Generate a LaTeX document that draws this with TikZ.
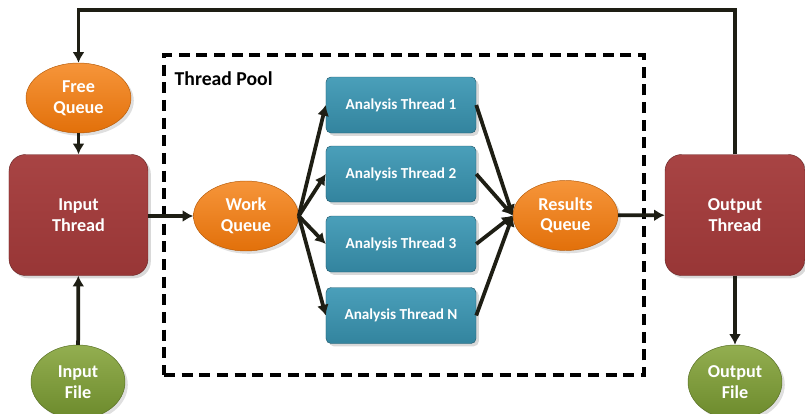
\documentclass[tikz,border=0pt]{standalone}
\usepackage{fontspec}
\setmainfont{Carlito}
\usetikzlibrary{shapes,arrows,arrows.meta,shadows}
\usetikzlibrary{positioning}
\definecolor{wire}{HTML}{1E1E14}
\definecolor{qtop}{HTML}{F6953A}
\definecolor{qbot}{HTML}{E2700A}
\definecolor{ttop}{HTML}{A84444}
\definecolor{tbot}{HTML}{983636}
\definecolor{wtop}{HTML}{4A9FBA}
\definecolor{wbot}{HTML}{33849E}
\definecolor{ftop}{HTML}{93AE50}
\definecolor{fbot}{HTML}{6C8A2C}
\tikzset{auto,>={Latex[length=0.32cm,width=0.36cm]}, minimum size=0pt, font=\bfseries\fontsize{15.5}{17.5}\selectfont}
\tikzstyle{queue} = [draw=qbot!80!black, ellipse, top color=qtop, bottom color=qbot, text=white, minimum width=3.15cm, minimum height=2.1cm, align=center, drop shadow={opacity=0.25}]
\tikzstyle{thread} = [draw=tbot!70!black, rectangle, rounded corners=0.5cm, top color=ttop, bottom color=tbot, text=white, minimum width=4.17cm, minimum height=3.63cm, align=center, drop shadow={opacity=0.3}]
\tikzstyle{worker} = [draw=wbot!70!black, rectangle, rounded corners=0.15cm, top color=wtop, bottom color=wbot, text=white, minimum width=4.5cm, minimum height=1.68cm, font=\bfseries\fontsize{13}{15}\selectfont, drop shadow={opacity=0.3}]
\tikzstyle{file} = [draw=fbot!80!black, ellipse, top color=ftop, bottom color=fbot, text=white, minimum width=2.82cm, minimum height=2.22cm, align=center, drop shadow={opacity=0.25}]
\tikzstyle{poolbox} = [draw=black, line width=3pt, dash pattern=on 0.33cm off 0.2cm, rectangle, minimum width=14.4cm, minimum height=9.6cm]
\tikzstyle{link} = [draw=wire, line width=3.2pt]

\begin{document}
\begin{tikzpicture}[x=0.03cm, y=-0.03cm]
    \useasboundingbox (0,0) rectangle (805,413);
    \node [poolbox] (pool) at (404,215) {};
    \node [anchor=north west, font=\bfseries\fontsize{16.8}{18}\selectfont] (pooltitle) at ([xshift=0.25cm,yshift=-0.42cm]pool.north west) {Thread Pool};

    \node [thread] (in) at (78.5,215) {Input\\Thread};
    \node [queue] (free) at (78.5,98) {Free\\Queue};
    \node [file] (infile) at (78,382) {Input\\File};
    \node [queue] (work) at (246,216) {Work\\Queue};
    \node [worker] (a1) at (401,105) {Analysis Thread 1};
    \node [worker] (a2) at (401,174) {Analysis Thread 2};
    \node [worker] (a3) at (401,244) {Analysis Thread 3};
    \node [worker] (an) at (401,315.5) {Analysis Thread N};
    \node [queue] (results) at (565.5,215.5) {Results\\Queue};
    \node [thread, minimum width=4.2cm] (out) at (735,215) {Output\\Thread};
    \node [file] (outfile) at (735,382) {Output\\File};
    \coordinate (top) at (735,10);

    \draw [link,->] (free) -- (in);
    \draw [link,->] (infile) -- (in);
    \draw [link,->] (in.east |- work) -- (work);
    \draw [link,->] (work.east) -- (a1.west);
    \draw [link,->] (work.east) -- (a2.west);
    \draw [link,->] (work.east) -- (a3.west);
    \draw [link,->] (work.east) -- (an.west);
    \draw [link,->] (a1.east) -- (results.west);
    \draw [link,->] (a2.east) -- (results.west);
    \draw [link,->] (a3.east) -- (results.west);
    \draw [link,->] (an.east) -- (results.west);
    \draw [link,->] (results) -- (out);
    \draw [link,->] (out) -- (outfile);
    \draw [link,->] (out.north) -- (top) -| (free.north);
\end{tikzpicture}
\end{document}
